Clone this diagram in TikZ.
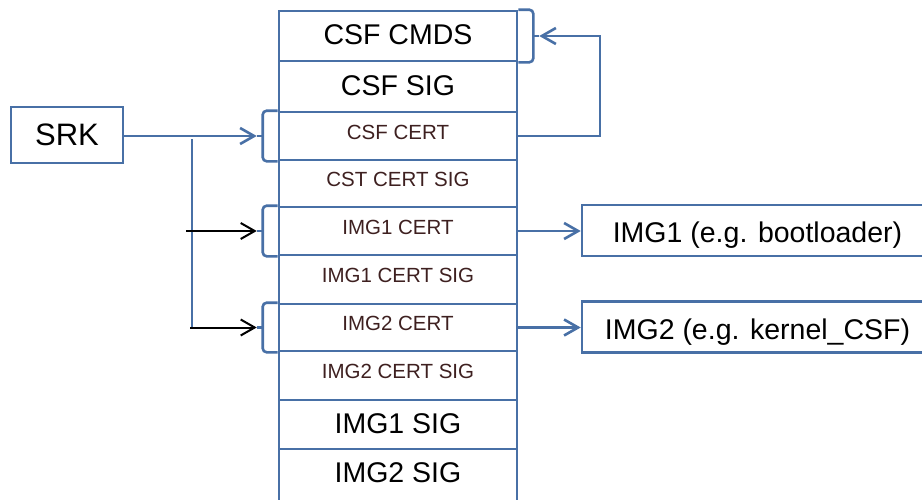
\documentclass[tikz,border=0pt]{standalone}
\usepackage{fontspec}
\setmainfont{Liberation Sans}
\usetikzlibrary{arrows.meta,calc}
\definecolor{lineblue}{RGB}{72,112,166}
\definecolor{certtext}{RGB}{62,32,32}
\newcommand{\LeftBrk}[2]{%
  \draw[link,rounded corners=4pt] (#1.north west) -- ++(-15,0) |- (#1.south west);
  \draw[link] ($(#1.west)+(-15,0)$) -- ++(-6,0) coordinate (#2);}
\newcommand{\RightBrk}[2]{%
  \draw[link,rounded corners=4pt] (#1.north east) -- ++(15,0) |- (#1.south east);
  \draw[link] ($(#1.east)+(15,0)$) -- ++(6,0) coordinate (#2);}
\begin{document}
\begin{tikzpicture}[x=1pt,y=-1pt,
  cell/.style={draw=lineblue,line width=2.6pt,minimum width=238pt,inner sep=0pt},
  bigcell/.style={cell,font=\fontsize{28.5}{30}\selectfont,text height=21pt,text depth=4pt},
  smallcell/.style={cell,font=\fontsize{20.5}{22}\selectfont,text=certtext,text height=15pt,text depth=8.4pt},
  imgbox/.style={draw=lineblue,line width=2.6pt,minimum width=351pt,minimum height=51pt,inner sep=0pt,
    font=\fontsize{28.5}{30}\selectfont,text height=27pt,text depth=3pt},
  keybox/.style={draw=lineblue,line width=2.6pt,minimum width=112pt,minimum height=56pt,inner sep=0pt,
    font=\fontsize{31}{33}\selectfont},
  link/.style={draw=lineblue,line width=2.6pt},
  feed/.style={draw=black,line width=2pt},
  tip/.style={-{Straight Barb[length=14pt,width=16pt]}}]
\useasboundingbox (0,0) rectangle (922,499);
\clip (0,0) rectangle (922,499);
\fill[white] (0,0) rectangle (922,499);

% signed image layout
\node[bigcell,minimum height=50pt]   (r1)  at (398,36)    {CSF CMDS};
\node[bigcell,minimum height=51pt]   (r2)  at (398,86.5)  {CSF SIG};
\node[smallcell,minimum height=48pt] (r3)  at (398,136)   {CSF CERT};
\node[smallcell,minimum height=47pt] (r4)  at (398,183.5) {CST CERT SIG};
\node[smallcell,minimum height=48pt] (r5)  at (398,231)   {IMG1 CERT};
\node[smallcell,minimum height=49pt] (r6)  at (398,279.5) {IMG1 CERT SIG};
\node[smallcell,minimum height=47pt] (r7)  at (398,327.5) {IMG2 CERT};
\node[smallcell,minimum height=49pt] (r8)  at (398,375.5) {IMG2 CERT SIG};
\node[bigcell,minimum height=49pt]   (r9)  at (398,424.5) {IMG1 SIG};
\node[bigcell,minimum height=54pt,text depth=7.6pt] (r10) at (398,476) {IMG2 SIG};

% key and images
\node[keybox] (srk) at (67,135) {SRK};
\node[imgbox] (img1) at (757.5,230.5) {IMG1 (e.g. bootloader)};
\node[imgbox] (img2) at (757.5,327)   {IMG2 (e.g. kernel\_CSF)};

% braces
\RightBrk{r1}{b0}
\LeftBrk{r3}{b1}
\LeftBrk{r5}{b2}
\LeftBrk{r7}{b3}

% SRK signs the certificates
\draw[link,tip] (srk.east |- b1) -- (b1);
\coordinate (split) at (192,139);
\draw[link] (split) -- (split |- b3);
\draw[feed,tip] ($(split |- b2)+(-6,0)$) -- (b2);
\draw[feed,tip] ($(split |- b3)+(-2,0)$) -- (b3);

% CSF certificate verifies the commands
\coordinate (loop) at (600,0);
\draw[link,tip] (r3.east) -- (r3.east -| loop) |- (b0);

% image certificates
\draw[link,tip] (r5.east) -- (r5.east -| img1.west);
\draw[link,tip] (r7.east) -- (r7.east -| img2.west);
\end{tikzpicture}
\end{document}
